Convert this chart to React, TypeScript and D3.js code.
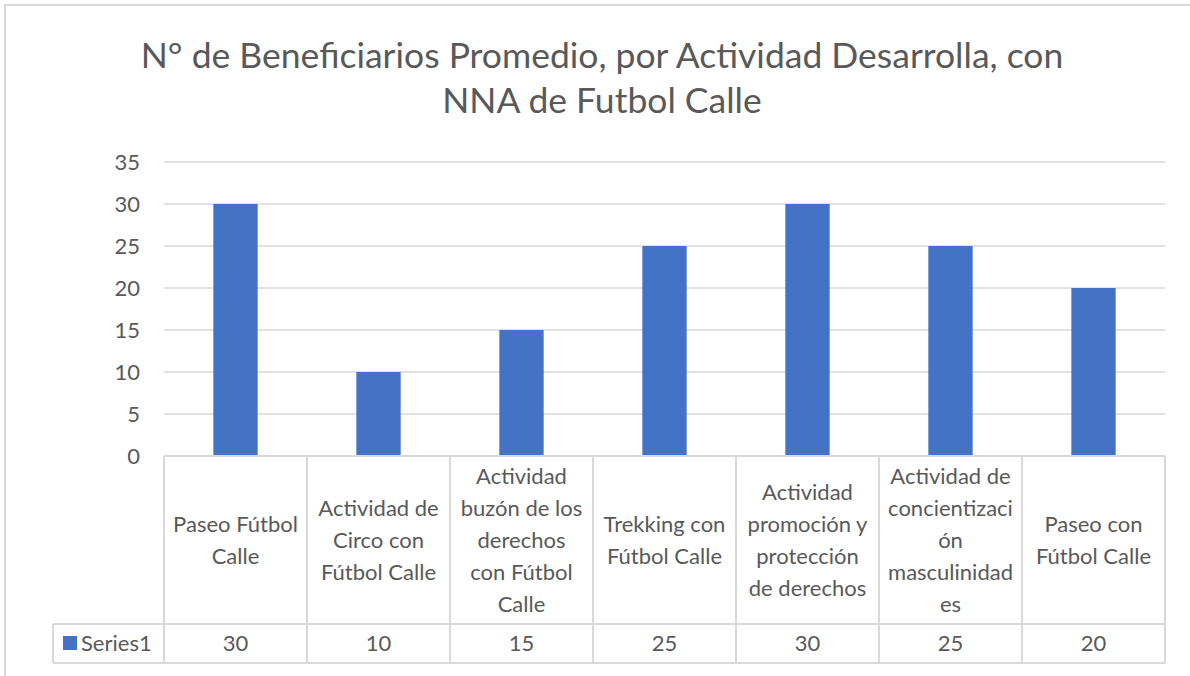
import React from "react";
import * as d3 from "d3";

const titleLines = ["N° de Beneficiarios Promedio, por Actividad Desarrolla, con", "NNA de Futbol Calle"];
const categoryLines: string[][] = [
  ["Paseo Fútbol", "Calle"],
  ["Actividad de", "Circo con", "Fútbol Calle"],
  ["Actividad", "buzón de los", "derechos", "con Fútbol", "Calle"],
  ["Trekking con", "Fútbol Calle"],
  ["Actividad", "promoción y", "protección", "de derechos"],
  ["Actividad de", "concientizaci", "ón", "masculinidad", "es"],
  ["Paseo con", "Fútbol Calle"],
];
const seriesName = "Series1";
const values = [30, 10, 15, 25, 30, 25, 20];
const yTicks = [0, 5, 10, 15, 20, 25, 30, 35];

const W = 1190;
const H = 676;
const FONT = "Lato, 'Open Sans', sans-serif";
const TEXT = "#595959";
const GRID = "#d9d9d9";
const BAR = "#4472c4";
const FS = 22;

export default function App() {
  const left = 164;
  const right = 1165;
  const yZero = 456;
  const yTop = 162;
  const catBottom = 624;
  const tableBottom = 663;
  const labelLeft = 53;

  const x = d3
    .scaleBand<number>()
    .domain(values.map((_, i) => i))
    .range([left, right])
    .paddingInner(0.69)
    .paddingOuter(0.345);
  const col = d3
    .scaleBand<number>()
    .domain(values.map((_, i) => i))
    .range([left, right]);
  const y = d3.scaleLinear().domain([0, 35]).range([yZero, yTop]);

  const lineH = 32;
  const catMid = (yZero + catBottom) / 2;

  return (
    <div style={{ position: "absolute", left: 0, top: 0 }}>
      <svg width={W} height={H} style={{ display: "block", background: "#fff" }}>
        <rect x={5} y={5} width={W + 10} height={H + 10} fill="#fff" stroke={GRID} strokeWidth={2} />
        {titleLines.map((t, i) => (
          <text
            key={i}
            x={602}
            y={68 + i * 45}
            textAnchor="middle"
            fontFamily={FONT}
            fontSize={35.5}
            fill={TEXT}
          >
            {t}
          </text>
        ))}
        {yTicks.filter((t) => t > 0).map((t) => (
          <line key={t} x1={left} x2={right} y1={y(t)} y2={y(t)} stroke={GRID} strokeWidth={1.5} />
        ))}
        {yTicks.map((t) => (
          <text
            key={t}
            x={140}
            y={y(t)}
            dy="0.35em"
            textAnchor="end"
            fontFamily={FONT}
            fontSize={FS}
            fill={TEXT}
          >
            {t}
          </text>
        ))}
        {values.map((v, i) => (
          <rect key={i} x={x(i)} y={y(v)} width={x.bandwidth()} height={yZero - y(v)} fill={BAR} />
        ))}
        {/* data table */}
        <g stroke={GRID} strokeWidth={2} fill="none">
          <line x1={left} x2={right} y1={yZero} y2={yZero} />
          <line x1={labelLeft} x2={right} y1={catBottom} y2={catBottom} />
          <line x1={labelLeft} x2={right} y1={tableBottom} y2={tableBottom} />
          <line x1={labelLeft} x2={labelLeft} y1={catBottom} y2={tableBottom} />
          {values.map((_, i) => (
            <line key={i} x1={col(i)!} x2={col(i)!} y1={yZero} y2={tableBottom} />
          ))}
          <line x1={right} x2={right} y1={yZero} y2={tableBottom} />
        </g>
        {categoryLines.map((lines, i) => {
          const cx = col(i)! + col.bandwidth() / 2;
          const start = catMid - ((lines.length - 1) * lineH) / 2;
          return (
            <text key={i} textAnchor="middle" fontFamily={FONT} fontSize={FS} fill={TEXT}>
              {lines.map((l, j) => (
                <tspan key={j} x={cx} y={start + j * lineH} dy="0.35em">
                  {l}
                </tspan>
              ))}
            </text>
          );
        })}
        <rect x={63} y={636} width={14} height={14} fill={BAR} />
        <text x={81} y={643.5} dy="0.35em" fontFamily={FONT} fontSize={FS} fill={TEXT}>
          {seriesName}
        </text>
        {values.map((v, i) => (
          <text
            key={i}
            x={col(i)! + col.bandwidth() / 2}
            y={643.5}
            dy="0.35em"
            textAnchor="middle"
            fontFamily={FONT}
            fontSize={FS}
            fill={TEXT}
          >
            {v}
          </text>
        ))}
      </svg>
    </div>
  );
}
